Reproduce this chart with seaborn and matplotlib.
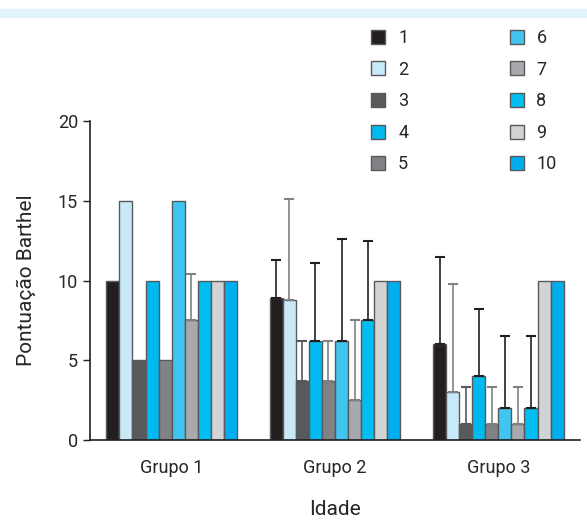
import numpy as np
import pandas as pd
import seaborn as sns
import matplotlib.pyplot as plt
from matplotlib.patches import Rectangle
from matplotlib.lines import Line2D

# data
groups = ["Grupo 1", "Grupo 2", "Grupo 3"]
series = ["1", "2", "3", "4", "5", "6", "7", "8", "9", "10"]
grupo1 = [10, 15, 5, 10, 5, 15, 7.5, 10, 10, 10]
grupo2 = [8.9, 8.8, 3.7, 6.2, 3.7, 6.2, 2.5, 7.5, 10, 10]
grupo3 = [6, 3, 1, 4, 1, 2, 1, 2, 10, 10]
err1 = [0, 0, 0, 0, 0, 0, 2.9, 0, 0, 0]
err2 = [2.4, 6.3, 2.5, 4.9, 2.5, 6.4, 5.0, 5.0, 0, 0]
err3 = [5.5, 6.8, 2.3, 4.2, 2.3, 4.5, 2.3, 4.5, 0, 0]

colors = ["#231f20", "#c8e9f8", "#58595b", "#00b9f0", "#808285",
          "#3fc5f0", "#a7a9ac", "#00bdf2", "#d1d3d4", "#00aeef"]
err_colors = ["#231f20", "#808285", "#58595b", "#231f20", "#808285",
              "#231f20", "#808285", "#231f20", "#808285", "#231f20"]

rows = []
for g, vals, errs in zip(groups, [grupo1, grupo2, grupo3], [err1, err2, err3]):
    for s, v, e in zip(series, vals, errs):
        rows.append({"grupo": g, "serie": s, "valor": v, "erro": e})
df = pd.DataFrame(rows)

sns.set_style("white")
plt.rcParams['font.family'] = ['Roboto', 'DejaVu Sans']

fig = plt.figure(figsize=(5.87, 5.25), dpi=100)
ax = fig.add_axes([90 / 587, 85 / 525, 490 / 587, 319 / 525])

sns.barplot(data=df, x="grupo", y="valor", hue="serie", order=groups,
            hue_order=series, palette=colors, saturation=1, errorbar=None, width=0.8,
            edgecolor="#58595b", linewidth=1.0, legend=False, ax=ax)

# upward-only error bars on top of each bar
bar_containers = list(ax.containers)
for i, cont in enumerate(bar_containers):
    sub = df[df["serie"] == series[i]].set_index("grupo").loc[groups]
    for patch, v, e in zip(cont.patches, sub["valor"], sub["erro"]):
        if e > 0:
            xc = patch.get_x() + patch.get_width() / 2
            ax.errorbar(xc, v, yerr=[[0], [e]], fmt="none", ecolor=err_colors[i],
                        elinewidth=1.2, capsize=3.5, capthick=1.5, zorder=1)

ax.set_ylim(0, 20)
ax.set_xlim(-0.5, 2.5)
ax.set_yticks([0, 5, 10, 15, 20])
ax.set_xticks([0, 1, 2])
ax.set_xticks([-0.5, 0.5, 1.5, 2.5], minor=True)
ax.tick_params(axis="x", which="major", length=0, labelsize=13, pad=14)
ax.tick_params(axis="x", which="minor", length=8, width=1, color="#231f20", direction="inout")
ax.tick_params(axis="y", length=5, width=1, color="#231f20", labelsize=13, left=True)
ax.set_xlabel("Idade", fontsize=15, labelpad=16)
ax.set_ylabel("Pontuação Barthel", fontsize=15, labelpad=16)
for side in ["top", "right"]:
    ax.spines[side].set_visible(False)
for side in ["left", "bottom"]:
    ax.spines[side].set_color("#231f20")
    ax.spines[side].set_linewidth(1.2)

# light band along the top of the figure
fig.patches.append(Rectangle((0, 508 / 525), 1, 8 / 525, transform=fig.transFigure,
                             color="#e0f3fb", zorder=0))

handles = [Line2D([], [], marker="s", linestyle="none", markersize=10,
                  markerfacecolor=c, markeredgecolor="#58595b") for c in colors]
fig.legend(handles, series, ncol=2, loc="upper left", bbox_to_anchor=(353 / 587, 512 / 525),
           frameon=False, fontsize=13, handletextpad=0.6, columnspacing=5.5,
           labelspacing=0.75, handlelength=1.0)

fig.savefig("out.png", dpi=100)
